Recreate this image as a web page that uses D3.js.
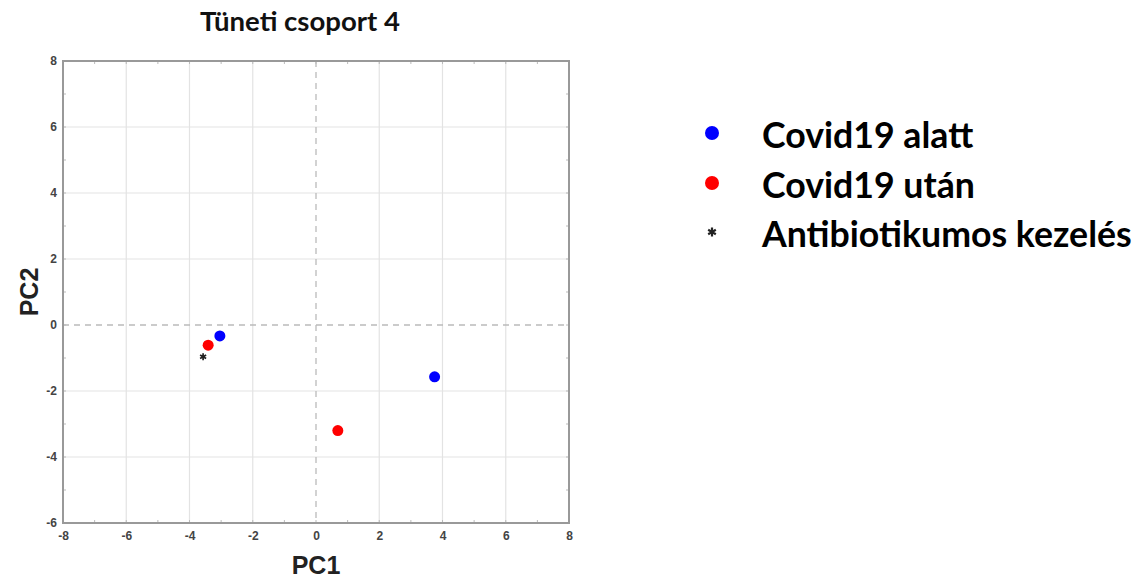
<!DOCTYPE html>
<html>
<head>
<meta charset="utf-8">
<script src="https://cdn.jsdelivr.net/npm/d3@7"></script>
<style>
  body { margin: 0; background: #fff; }
  svg { display: block; }
</style>
</head>
<body>
<svg id="chart" width="1140" height="581"></svg>
<script>
// PCA scores, symptom group 4
const groups = ["Covid19 alatt", "Covid19 után", "Antibiotikumos kezelés"];
const groupColors = ["#0000ff", "#ff0000", "#222222"];
const duringPC1 = [-3.04, 3.75];
const duringPC2 = [-0.33, -1.57];
const afterPC1 = [-3.41, 0.69];
const afterPC2 = [-0.61, -3.20];
const abxPC1 = [-3.57];
const abxPC2 = [-0.96];
const xTicks = [-8, -6, -4, -2, 0, 2, 4, 6, 8];
const yTicks = [-6, -4, -2, 0, 2, 4, 6, 8];

const svg = d3.select("#chart");
const plot = { left: 63, right: 569, top: 61, bottom: 523 };

const x = d3.scaleLinear().domain([-8, 8]).range([plot.left, plot.right]);
const y = d3.scaleLinear().domain([-6, 8]).range([plot.bottom, plot.top]);

// scale a text element's font size so that it spans the given width
function fitWidth(sel, width) {
  const node = sel.node();
  const fs = parseFloat(sel.attr("font-size"));
  const w = node.getComputedTextLength();
  if (w > 0) sel.attr("font-size", (fs * width / w).toFixed(2));
  return sel;
}

// grid
const grid = svg.append("g");
grid.selectAll(".gx").data(xTicks.filter(v => v !== 0 && v !== -8 && v !== 8)).join("line")
  .attr("x1", d => x(d)).attr("x2", d => x(d))
  .attr("y1", plot.top).attr("y2", plot.bottom)
  .attr("stroke", "#e3e3e3").attr("stroke-width", 1.2);
grid.selectAll(".gy").data(yTicks.filter(v => v !== 0 && v !== -6 && v !== 8)).join("line")
  .attr("x1", plot.left).attr("x2", plot.right)
  .attr("y1", d => y(d)).attr("y2", d => y(d))
  .attr("stroke", "#e3e3e3").attr("stroke-width", 1.2);

// zero lines
grid.append("line")
  .attr("x1", x(0)).attr("x2", x(0)).attr("y1", plot.top).attr("y2", plot.bottom)
  .attr("stroke", "#bbbbbb").attr("stroke-width", 1.3).attr("stroke-dasharray", "6,5");
grid.append("line")
  .attr("x1", plot.left).attr("x2", plot.right).attr("y1", y(0)).attr("y2", y(0))
  .attr("stroke", "#bbbbbb").attr("stroke-width", 1.3).attr("stroke-dasharray", "6,5");

// minor ticks on the frame
const minor = d3.range(-7, 8, 1);
grid.selectAll(".mt").data(minor).join("line")
  .attr("x1", d => x(d)).attr("x2", d => x(d)).attr("y1", plot.top).attr("y2", plot.top + 3)
  .attr("stroke", "#bbb");
grid.selectAll(".mb").data(minor).join("line")
  .attr("x1", d => x(d)).attr("x2", d => x(d)).attr("y1", plot.bottom).attr("y2", plot.bottom - 3)
  .attr("stroke", "#bbb");
const minorY = d3.range(-5, 8, 1);
grid.selectAll(".ml").data(minorY).join("line")
  .attr("x1", plot.left).attr("x2", plot.left + 3).attr("y1", d => y(d)).attr("y2", d => y(d))
  .attr("stroke", "#bbb");
grid.selectAll(".mr").data(minorY).join("line")
  .attr("x1", plot.right).attr("x2", plot.right - 3).attr("y1", d => y(d)).attr("y2", d => y(d))
  .attr("stroke", "#bbb");

// frame
svg.append("rect")
  .attr("x", plot.left).attr("y", plot.top)
  .attr("width", plot.right - plot.left).attr("height", plot.bottom - plot.top)
  .attr("fill", "none").attr("stroke", "#999").attr("stroke-width", 2);

// axes (plain hyphen for negative numbers)
const fmt = d => String(d);
const xAxis = svg.append("g").attr("transform", `translate(0,${plot.bottom})`)
  .call(d3.axisBottom(x).tickValues(xTicks).tickFormat(fmt).tickSize(0).tickPadding(8));
const yAxis = svg.append("g").attr("transform", `translate(${plot.left},0)`)
  .call(d3.axisLeft(y).tickValues(yTicks).tickFormat(fmt).tickSize(0).tickPadding(6));
[xAxis, yAxis].forEach(a => {
  a.select(".domain").remove();
  a.selectAll("text")
    .attr("font-family", "Liberation Sans, Arial, sans-serif")
    .attr("font-size", 12).attr("font-weight", "bold").attr("fill", "#444");
});

// axis titles
svg.append("text").attr("x", x(0)).attr("y", 574)
  .attr("text-anchor", "middle")
  .attr("font-family", "Liberation Sans, Arial, sans-serif")
  .attr("font-size", 25).attr("font-weight", "bold").attr("fill", "#222")
  .text("PC1");
svg.append("text")
  .attr("transform", `translate(38,${y(1)}) rotate(-90)`)
  .attr("text-anchor", "middle")
  .attr("font-family", "Liberation Sans, Arial, sans-serif")
  .attr("font-size", 25).attr("font-weight", "bold").attr("fill", "#222")
  .text("PC2");

// title
const title = svg.append("text").attr("x", 300).attr("y", 31)
  .attr("text-anchor", "middle")
  .attr("font-family", "Lato, 'Open Sans', sans-serif")
  .attr("font-size", 21).attr("font-weight", "bold").attr("fill", "#111")
  .text("Tüneti csoport 4");
fitWidth(title, 200);

// points
const pts = svg.append("g");
const during = duringPC1.map((v, i) => ({ pc1: v, pc2: duringPC2[i] }));
const after = afterPC1.map((v, i) => ({ pc1: v, pc2: afterPC2[i] }));
const abx = abxPC1.map((v, i) => ({ pc1: v, pc2: abxPC2[i] }));

pts.selectAll(".during").data(during).join("circle")
  .attr("cx", d => x(d.pc1)).attr("cy", d => y(d.pc2)).attr("r", 5.5)
  .attr("fill", groupColors[0]);
pts.selectAll(".after").data(after).join("circle")
  .attr("cx", d => x(d.pc1)).attr("cy", d => y(d.pc2)).attr("r", 5.5)
  .attr("fill", groupColors[1]);
const star = d3.symbol().type(d3.symbolAsterisk).size(34);
pts.selectAll(".abx").data(abx).join("path")
  .attr("transform", d => `translate(${x(d.pc1)},${y(d.pc2)})`)
  .attr("d", star).attr("stroke", groupColors[2]).attr("stroke-width", 1.7).attr("fill", "none");

// legend
const legendY = [148, 198, 247];
const lg = svg.append("g");
const legendTexts = [];
groups.forEach((g, i) => {
  if (i < 2) {
    lg.append("circle").attr("cx", 712).attr("cy", legendY[i] - 15).attr("r", 7)
      .attr("fill", groupColors[i]);
  } else {
    lg.append("path").attr("transform", `translate(712,${legendY[i] - 15})`)
      .attr("d", d3.symbol().type(d3.symbolAsterisk).size(55))
      .attr("stroke", groupColors[2]).attr("stroke-width", 2.2).attr("fill", "none");
  }
  legendTexts.push(lg.append("text").attr("x", 762).attr("y", legendY[i])
    .attr("font-family", "Lato, 'Open Sans', sans-serif")
    .attr("font-size", 31).attr("font-weight", "bold").attr("fill", "#000")
    .text(g));
});
// size all legend labels alike, set by the longest one
const longest = legendTexts[2];
const before = parseFloat(longest.attr("font-size"));
fitWidth(longest, 370);
const after2 = longest.attr("font-size");
legendTexts.forEach(t => t.attr("font-size", after2));
</script>
</body>
</html>
